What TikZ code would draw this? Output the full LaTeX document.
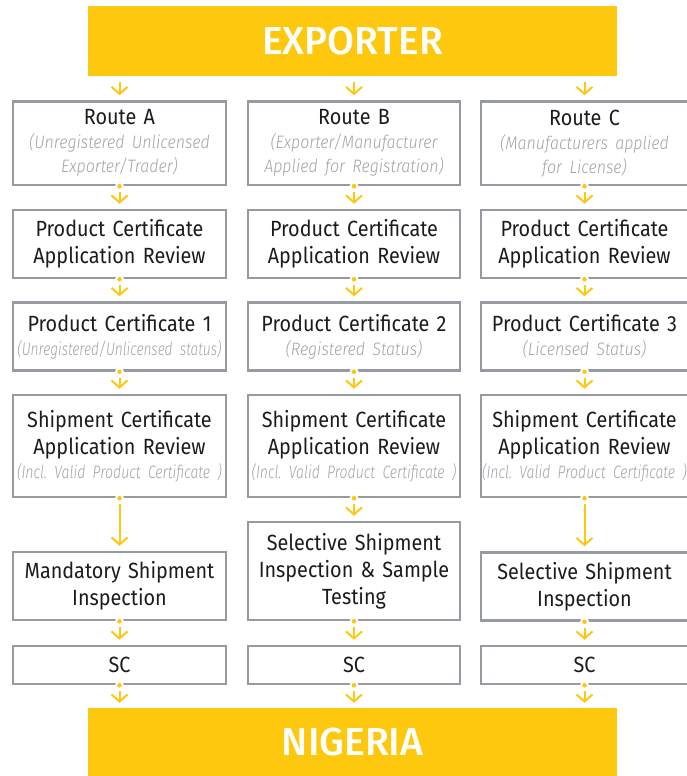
\documentclass[tikz,border=0pt]{standalone}
\usepackage{fontspec}
\setmainfont{Fira Sans}[FakeStretch=0.9]
\newfontfamily\bigf{Fira Sans Medium}
\newfontfamily\subfam{Fira Sans Light Italic}[FakeStretch=0.89,WordSpace=0.6]
\newfontfamily\subnarrow{Fira Sans Light Italic}[FakeStretch=0.76,WordSpace=0.5]
\newfontfamily\subrow{Fira Sans Light Italic}[FakeStretch=0.78,WordSpace=0.5]
\usetikzlibrary{arrows.meta}
\definecolor{ylw}{HTML}{FDC80E}
\definecolor{bordergray}{HTML}{959BA0}
\definecolor{subgray}{HTML}{A0A4A8}
\definecolor{txt}{HTML}{1C1C1C}
\frenchspacing
\newcommand\mainf{\fontsize{22}{27}\selectfont\color{txt}\parindent=0pt\hyphenpenalty=10000\exhyphenpenalty=10000\frenchspacing}
\newcommand\subf{\subfam\fontsize{18}{24}\selectfont\color{subgray}}
\newcommand\subn{\subnarrow\fontsize{18}{24}\selectfont\color{subgray}}
\newcommand\subr{\subrow\fontsize{18}{24}\selectfont\color{subgray}}
\newcommand\junc[1]{\fill[white] (#1) circle (4.5pt); \fill[ylw] (#1) circle (2.3pt);}
\begin{document}
\begin{tikzpicture}[x=1pt,y=-1pt,
 boxs/.style={draw=bordergray, line width=2.5pt, fill=white, inner sep=0pt, align=center, font=\mainf},
 colA/.style={boxs, minimum width=213pt, text width=211pt},
 colB/.style={boxs, minimum width=212pt, text width=210pt},
 colC/.style={boxs, minimum width=207pt, text width=205pt},
 banner/.style={fill=ylw, inner sep=0pt, minimum width=529pt, text=white, font=\bigf\fontsize{39}{39}\selectfont},
 arr/.style={draw=ylw, line width=2pt, -{Straight Barb[length=7pt,width=16pt]}},
 ]
\useasboundingbox (0,0) rectangle (686,776);
\node[banner, minimum height=70pt] (exp) at (352.5,41) {EXPORTER};
\node[banner, minimum height=68pt] (nig) at (352.5,742) {NIGERIA};

% row 1
\node[colA, minimum height=83.5pt] (a1) at (119.5,143.25) {{Route A\par}{\subf \mbox{(Unregistered Unlicensed}\\\mbox{Exporter/Trader)}\par}};
\node[colB, minimum height=83.5pt] (b1) at (354,143.25) {{Route B\par}{\subf \mbox{(Exporter/Manufacturer}\\\mbox{Applied for Registration)}\par}};
\node[colC, minimum height=83.5pt] (c1) at (584.5,143.25) {{Route C\par}{\subf \mbox{(Manufacturers applied}\\\mbox{for License)}\par}};
% row 2
\node[colA, minimum height=68pt] (a2) at (119.5,244) {Product Certificate\\Application Review};
\node[colB, minimum height=68pt] (b2) at (354,244) {Product Certificate\\Application Review};
\node[colC, minimum height=68pt] (c2) at (584.5,244) {Product Certificate\\Application Review};
% row 3
\node[colA, minimum height=68pt] (a3) at (119.5,336.5) {{Product Certificate 1\par}{\subn \mbox{(Unregistered/Unlicensed status)}\par}};
\node[colB, minimum height=68pt] (b3) at (354,336.5) {{Product Certificate 2\par}{\subf \mbox{(Registered Status)}\par}};
\node[colC, minimum height=68pt] (c3) at (584.5,336.5) {{Product Certificate 3\par}{\subf \mbox{(Licensed Status)}\par}};
% row 4
\node[colA, minimum height=102pt] (a4) at (119.5,446) {{Shipment Certificate\\Application Review\par}{\subr \mbox{(Incl. Valid Product Certificate )}\par}};
\node[colB, minimum height=102pt] (b4) at (354,446) {{Shipment Certificate\\Application Review\par}{\subr \mbox{(Incl. Valid Product Certificate )}\par}};
\node[colC, minimum height=102pt] (c4) at (584.5,446) {{Shipment Certificate\\Application Review\par}{\subr \mbox{(Incl. Valid Product Certificate )}\par}};
% row 5
\node[colA, minimum height=68pt] (a5) at (119.5,586) {Mandatory Shipment\\Inspection};
\node[colB, minimum height=98pt] (b5) at (354,571) {Selective Shipment\\Inspection \& Sample\\Testing};
\node[colC, minimum height=68pt] (c5) at (584.5,586.5) {Selective Shipment\\Inspection};
% row 6
\node[colA, minimum height=38pt] (a6) at (119.5,665) {SC};
\node[colB, minimum height=38pt] (b6) at (354,665) {SC};
\node[colC, minimum height=38pt] (c6) at (584.5,665) {SC};

% arrows from exporter
\coordinate (ea) at (exp.south -| a1.north);
\coordinate (eb) at (exp.south -| b1.north);
\coordinate (ec) at (exp.south -| c1.north);
\draw[arr] ([yshift=-6pt]ea) -- ([yshift=5pt]a1.north);
\draw[arr] ([yshift=-6pt]eb) -- ([yshift=5pt]b1.north);
\draw[arr] ([yshift=-6pt]ec) -- ([yshift=5pt]c1.north);

% arrows down the columns
\foreach \c in {a,b,c}{
  \foreach \i/\j in {1/2,2/3,3/4,4/5,5/6}{
    \junc{\c\i.south}
    \draw[arr] ([yshift=-6pt]\c\i.south) -- ([yshift=5pt]\c\j.north);
  }
  \junc{\c6.south}
  \coordinate (n\c) at (nig.north -| \c6.south);
  \draw[arr] ([yshift=-6pt]\c6.south) -- ([yshift=5pt]n\c);
}
\end{tikzpicture}
\end{document}
